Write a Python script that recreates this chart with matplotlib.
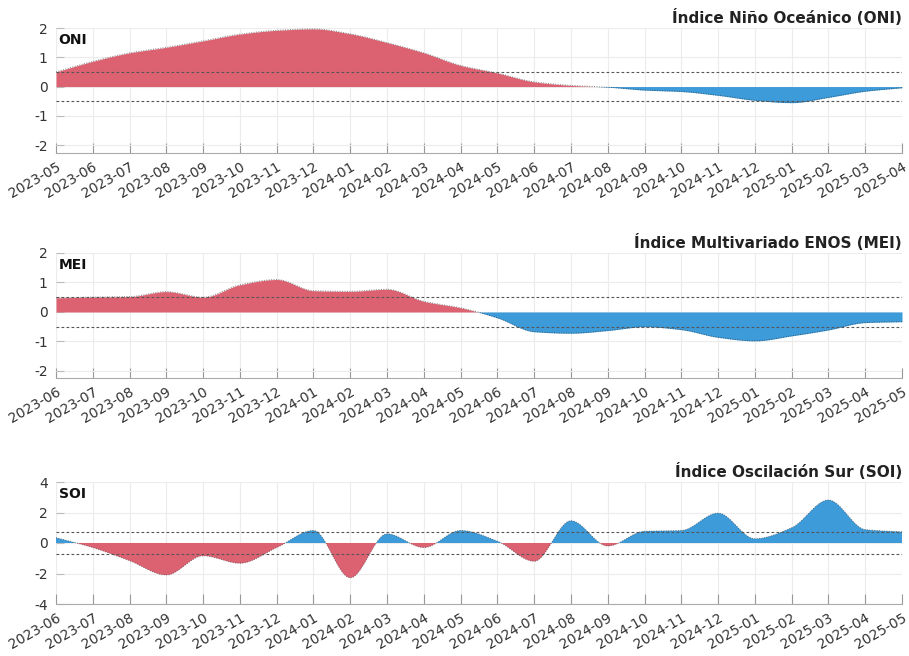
import numpy as np
import matplotlib
matplotlib.use("Agg")
import matplotlib.pyplot as plt

plt.rcParams['font.family'] = ['DejaVu Sans']

# Monthly labels for each panel
oni_months = ["2023-05", "2023-06", "2023-07", "2023-08", "2023-09", "2023-10",
              "2023-11", "2023-12", "2024-01", "2024-02", "2024-03", "2024-04",
              "2024-05", "2024-06", "2024-07", "2024-08", "2024-09", "2024-10",
              "2024-11", "2024-12", "2025-01", "2025-02", "2025-03", "2025-04"]
mei_months = ["2023-06", "2023-07", "2023-08", "2023-09", "2023-10", "2023-11",
              "2023-12", "2024-01", "2024-02", "2024-03", "2024-04", "2024-05",
              "2024-06", "2024-07", "2024-08", "2024-09", "2024-10", "2024-11",
              "2024-12", "2025-01", "2025-02", "2025-03", "2025-04", "2025-05"]
soi_months = list(mei_months)

# Index values
oni_values = [0.50, 0.86, 1.15, 1.34, 1.56, 1.79, 1.92, 1.97, 1.80, 1.50, 1.15, 0.72,
              0.46, 0.16, 0.04, -0.02, -0.12, -0.17, -0.30, -0.47, -0.55, -0.37,
              -0.16, -0.04]
mei_values = [0.48, 0.50, 0.52, 0.69, 0.50, 0.92, 1.10, 0.72, 0.70, 0.77, 0.36, 0.14,
              -0.20, -0.67, -0.72, -0.63, -0.50, -0.60, -0.86, -0.98, -0.81, -0.61,
              -0.36, -0.33]
soi_values = [0.35, -0.30, -1.16, -2.10, -0.84, -1.33, -0.30, 0.82, -2.28, 0.60,
              -0.30, 0.82, 0.12, -1.20, 1.46, -0.20, 0.77, 0.82, 1.96, 0.28, 1.00,
              2.82, 0.88, 0.73]

RED = "#DC6272"
BLUE = "#3D9BDA"


def pchip(x, y, xs):
    """Monotone cubic (Fritsch-Carlson) curve through the points."""
    x = np.asarray(x, float)
    y = np.asarray(y, float)
    h = np.diff(x)
    d = np.diff(y) / h
    n = len(x)
    m = np.zeros(n)
    for k in range(1, n - 1):
        if d[k - 1] * d[k] > 0:
            w1 = 2 * h[k] + h[k - 1]
            w2 = h[k] + 2 * h[k - 1]
            m[k] = (w1 + w2) / (w1 / d[k - 1] + w2 / d[k])
    m[0] = d[0]
    m[-1] = d[-1]
    idx = np.clip(np.searchsorted(x, xs) - 1, 0, n - 2)
    t = (xs - x[idx]) / h[idx]
    h00 = 2 * t**3 - 3 * t**2 + 1
    h10 = t**3 - 2 * t**2 + t
    h01 = -2 * t**3 + 3 * t**2
    h11 = t**3 - t**2
    return (h00 * y[idx] + h10 * h[idx] * m[idx] +
            h01 * y[idx + 1] + h11 * h[idx] * m[idx + 1])


fig = plt.figure(figsize=(9.09, 6.56), dpi=100)

L = 56 / 909
W = 846 / 909
panels = [
    dict(months=oni_months, values=oni_values, label="ONI",
         title="Índice Niño Oceánico (ONI)", thr=0.5, ylim=(-2.27, 2.0),
         yticks=[-2, -1, 0, 1, 2], pos_color=RED, neg_color=BLUE,
         rect=[L, 1 - 153 / 656, W, 125 / 656]),
    dict(months=mei_months, values=mei_values, label="MEI",
         title="Índice Multivariado ENOS (MEI)", thr=0.5, ylim=(-2.24, 2.0),
         yticks=[-2, -1, 0, 1, 2], pos_color=RED, neg_color=BLUE,
         rect=[L, 1 - 378 / 656, W, 125 / 656]),
    dict(months=soi_months, values=soi_values, label="SOI",
         title="Índice Oscilación Sur (SOI)", thr=0.7, ylim=(-4.0, 4.0),
         yticks=[-4, -2, 0, 2, 4], pos_color=BLUE, neg_color=RED,
         rect=[L, 1 - 604 / 656, W, 122 / 656]),
]

for p in panels:
    ax = fig.add_axes(p["rect"])
    n = len(p["months"])
    x = np.arange(n)
    xs = np.linspace(0, n - 1, 1200)
    ys = pchip(x, p["values"], xs)

    ax.fill_between(xs, 0, ys, where=ys >= 0, interpolate=True,
                    color=p["pos_color"], linewidth=0, zorder=2)
    ax.fill_between(xs, 0, ys, where=ys <= 0, interpolate=True,
                    color=p["neg_color"], linewidth=0, zorder=2)
    ax.plot(xs, ys, color="#222222", lw=0.7, ls=(0, (1, 1.5)),
            alpha=0.55, zorder=3)

    for s in (p["thr"], -p["thr"]):
        ax.axhline(s, color="#555555", lw=0.8, ls=(0, (2.5, 2)), zorder=4)

    ax.set_xlim(0, n - 1)
    ax.set_ylim(*p["ylim"])
    ax.set_xticks(x)
    ax.set_xticklabels(p["months"], rotation=30, ha="right",
                       rotation_mode="anchor", fontsize=10, color="#333333")
    ax.set_yticks(p["yticks"])
    ax.set_yticklabels([str(v) for v in p["yticks"]], fontsize=10,
                       color="#333333")
    ax.tick_params(axis="y", direction="in", length=6, width=0.8,
                   color="#bbbbbb", pad=6)
    ax.tick_params(axis="x", direction="in", length=7, width=0.8,
                   color="#999999", pad=5)
    ax.grid(True, color="#ececec", lw=0.8, zorder=0)
    ax.set_axisbelow(True)
    for side in ("top", "right", "left"):
        ax.spines[side].set_visible(False)
    ax.spines["bottom"].set_color("#aaaaaa")
    ax.spines["bottom"].set_linewidth(0.8)

    ax.text(0.003, 0.96, p["label"], transform=ax.transAxes, ha="left",
            va="top", fontsize=10, fontweight="bold", color="#111111",
            zorder=6)
    ax.text(1.0, 1.015, p["title"], transform=ax.transAxes, ha="right",
            va="bottom", fontsize=11, fontweight="bold", color="#222222")

fig.savefig("out.png", dpi=100, facecolor="white")
